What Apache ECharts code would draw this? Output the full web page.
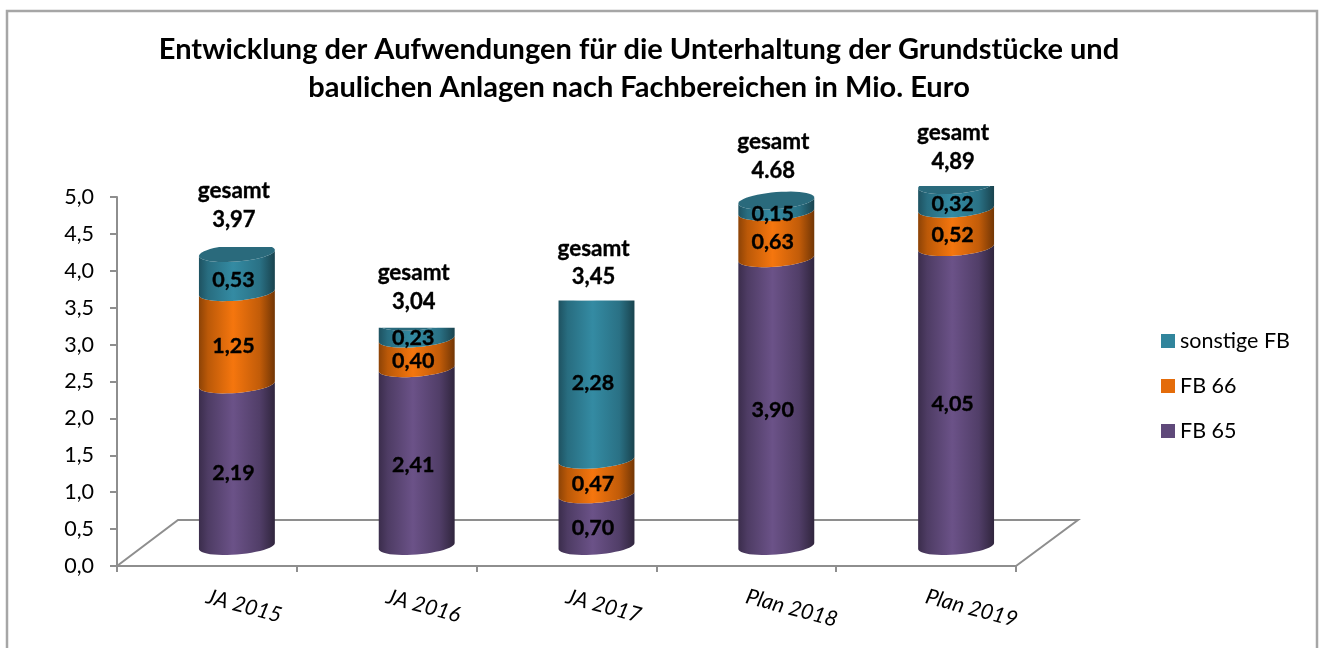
<!DOCTYPE html>
<html><head><meta charset="utf-8">
<style>html,body{margin:0;padding:0;background:#fff}#c{width:1323px;height:648px}</style>
<script src="https://cdn.jsdelivr.net/npm/echarts@6/dist/echarts.min.js"></script>
</head><body><div id="c"></div>
<script>
const categories = ['JA 2015','JA 2016','JA 2017','Plan 2018','Plan 2019'];
const fb65 = [2.19,2.41,0.70,3.90,4.05];
const fb66 = [1.25,0.40,0.47,0.63,0.52];
const sonstige = [0.53,0.23,2.28,0.15,0.32];
const gesamt = [3.97,3.04,3.45,4.68,4.89];
const gesamtLabels = ['3,97','3,04','3,45','4.68','4,89'];

// pixel layout of the "gesamt" text boxes relative to the top of each stack
const gesamtLayout = [
  {textUp:33, boxUp:6}, {textUp:20, boxUp:-6}, {textUp:14, boxUp:-9},
  {textUp:30, boxUp:14}, {textUp:23, boxUp:-1}
];
const FONT = 'Lato, "Open Sans", sans-serif';
const AXIS = '#8e8e8e';

function shade(hex, f){
  const n = parseInt(hex.slice(1),16);
  const c = s => Math.round(((n>>s)&255)*f);
  return 'rgb('+c(16)+','+c(8)+','+c(0)+')';
}
function cylGrad(base, bright){
  return {type:'linear',x:0,y:0,x2:1,y2:0,colorStops:[
    {offset:0,color:shade(base,0.62)},
    {offset:0.12,color:shade(base,0.82)},
    {offset:0.45,color:bright},
    {offset:0.8,color:shade(base,0.85)},
    {offset:1,color:shade(base,0.5)}]};
}
const RX_RATIO = 38/180, RY = 8.5, TILT = 3;
function arc(cx,cy,rx,a0,a1,n){
  const p=[];
  for(let k=0;k<=n;k++){
    const t=a0+(a1-a0)*k/n;
    p.push([cx+rx*Math.cos(t), cy-TILT*Math.cos(t)+RY*Math.sin(t)]);
  }
  return p;
}
const boldText = {fill:'#000',stroke:'#000',lineWidth:0.35,align:'center',verticalAlign:'middle'};
function segmentRenderer(values, base, bright, capColor){
  return function(params, api){
    const i=api.value(0);
    const a=api.coord([i,api.value(1)]), b=api.coord([i,api.value(2)]);
    const rx=api.size([1,0])[0]*RX_RATIO, cx=a[0];
    const top=arc(cx,b[1],rx,Math.PI,0,24), bot=arc(cx,a[1],rx,0,Math.PI,24);
    const children=[{type:'polygon',shape:{points:top.concat(bot)},
      style:{fill:cylGrad(base,bright)},z2:1}];
    if(capColor){
      children.push({type:'polygon',shape:{points:arc(cx,b[1],rx,0,Math.PI*2,48)},
        style:{fill:capColor},z2:2});
    }
    children.push({type:'text',z2:10,style:Object.assign({
      text:values[params.dataIndex].toFixed(2).replace('.',','),
      x:cx-3.5,y:(a[1]+b[1])/2+7.5,font:'bold 21.5px '+FONT},boldText)});
    return {type:'group',children};
  };
}
function stackData(values, below){
  return values.map((v,i)=>[i,below[i],below[i]+v]);
}
const base66 = fb65;
const baseSon = fb65.map((v,i)=>v+fb66[i]);

const option = {
  animation:false,
  backgroundColor:'#fff',
  color:['#5F497A','#E46C0A','#31859C'],
  title:{
    text:'Entwicklung der Aufwendungen für die Unterhaltung der Grundstücke und\nbaulichen Anlagen nach Fachbereichen in Mio. Euro',
    left:634, top:26, textAlign:'center',
    textStyle:{fontFamily:FONT,fontWeight:'bold',fontSize:29,lineHeight:38,color:'#000'}
  },
  legend:{
    orient:'vertical',left:1156,top:325,itemWidth:14,itemHeight:14,itemGap:23,
    icon:'rect',data:['sonstige FB','FB 66','FB 65'],
    textStyle:{fontFamily:FONT,fontSize:21.5,color:'#000'}
  },
  grid:[
    {left:117,top:197,width:899,height:369},
    {left:147,top:177,width:899,height:369}
  ],
  xAxis:[
    {type:'category',gridIndex:0,data:categories,
     axisLine:{lineStyle:{color:AXIS,width:2}},
     axisTick:{show:true,length:6,lineStyle:{color:AXIS,width:2}},
     axisLabel:{interval:0,rotate:-15,margin:30,fontFamily:FONT,fontSize:21.5,fontStyle:'italic',color:'#000'}},
    {type:'category',gridIndex:1,data:categories,show:false}
  ],
  yAxis:[
    {type:'value',gridIndex:0,min:0,max:5,interval:0.5,
     axisLine:{show:true,lineStyle:{color:AXIS,width:2}},
     axisTick:{show:true,length:7,lineStyle:{color:AXIS,width:2}},
     splitLine:{show:false},
     axisLabel:{margin:23,padding:[3,0,0,0],fontFamily:FONT,fontSize:21.5,color:'#000',
       formatter:v=>v.toFixed(1).replace('.',',')}},
    {type:'value',gridIndex:1,min:0,max:5,show:false,splitLine:{show:false}}
  ],
  graphic:[{type:'rect',silent:true,z:-1,shape:{x:7,y:11,width:1310,height:680},
    style:{fill:'none',stroke:'#a6a6a6',lineWidth:2.5}}],
  series:[
    {type:'custom',name:'Boden',xAxisIndex:0,yAxisIndex:0,z:1,silent:true,data:[[0]],
     renderItem:(params,api)=>{
       const cs=params.coordSys, y=cs.y+cs.height, x=cs.x, r=x+cs.width;
       return {type:'polyline',shape:{points:[[x,y],[x+61,y-46],[r+62,y-46],[r,y]]},
         style:{stroke:AXIS,lineWidth:2,fill:'none'}};
     }},
    {type:'custom',name:'FB 65',xAxisIndex:1,yAxisIndex:1,z:3,data:stackData(fb65,fb65.map(()=>0)),
     itemStyle:{color:'#5F497A'},encode:{x:0,y:2},
     renderItem:segmentRenderer(fb65,'#5F497A','#6b5288',null)},
    {type:'custom',name:'FB 66',xAxisIndex:1,yAxisIndex:1,z:3,data:stackData(fb66,base66),
     itemStyle:{color:'#E46C0A'},encode:{x:0,y:2},
     renderItem:segmentRenderer(fb66,'#E46C0A','#f5760e',null)},
    {type:'custom',name:'sonstige FB',xAxisIndex:1,yAxisIndex:1,z:3,data:stackData(sonstige,baseSon),
     itemStyle:{color:'#31859C'},encode:{x:0,y:2},
     renderItem:segmentRenderer(sonstige,'#31859C','#348ba3','#2a6a7c')},
    {type:'custom',name:'gesamt',xAxisIndex:1,yAxisIndex:1,z:4,silent:true,
     data:gesamt.map((v,i)=>[i,v]),encode:{x:0,y:1},
     renderItem:(params,api)=>{
       const idx=params.dataIndex, L=gesamtLayout[idx];
       const p=api.coord([api.value(0),api.value(1)]);
       const bottom=p[1]-L.boxUp, txt=p[1]-L.textUp;
       return {type:'group',children:[
         {type:'rect',shape:{x:p[0]-50,y:bottom-70,width:100,height:70},style:{fill:'#fff'},z2:20},
         {type:'text',z2:21,style:Object.assign({text:'gesamt',x:p[0]-3,y:txt-29,font:'bold 22.5px '+FONT},boldText)},
         {type:'text',z2:21,style:Object.assign({text:gesamtLabels[idx],x:p[0]-3,y:txt,font:'bold 22px '+FONT},boldText)}
       ]};
     }}
  ]
};
echarts.init(document.getElementById('c'),null,{renderer:'canvas'}).setOption(option);
</script></body></html>
